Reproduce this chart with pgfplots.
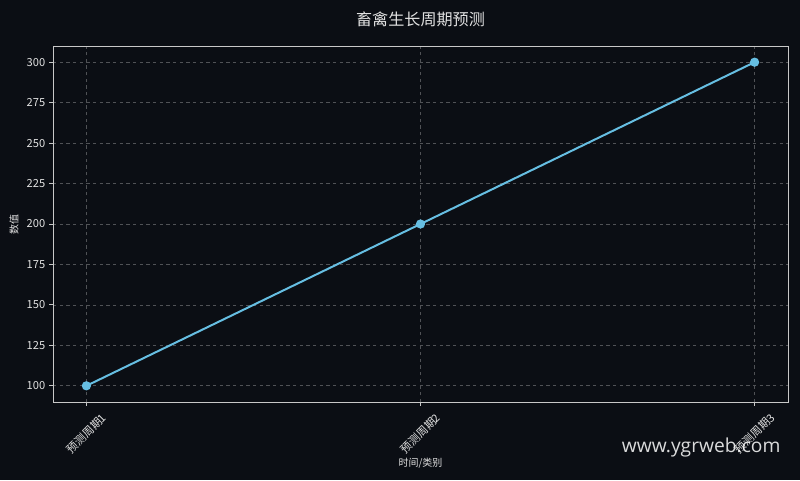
\documentclass[border=0pt]{standalone}
\usepackage{fontspec}
\usepackage{pgfplots}
\pgfplotsset{compat=1.18}
\setmainfont{Noto Sans CJK SC}
\newfontfamily\wmfont{Open Sans}
\definecolor{bgc}{RGB}{11,14,20}
\definecolor{linec}{RGB}{102,190,226}
\definecolor{gridc}{RGB}{80,82,86}
\definecolor{axc}{RGB}{200,200,200}
\definecolor{txt}{RGB}{225,225,225}
\begin{document}
\begin{tikzpicture}
\fill[bgc] (0,0) rectangle (720pt,432pt);
\begin{axis}[
    at={(47.7pt,70.2pt)}, anchor=south west,
    scale only axis,
    width=661.5pt, height=320.4pt,
    xmin=-0.1, xmax=2.1,
    ymin=90, ymax=310,
    xtick={0,1,2},
    xticklabels={预测周期1,预测周期2,预测周期3},
    ytick={100,125,...,300},
    axis line style={axc, line width=0.8pt},
    tick style={axc, line width=0.8pt},
    tick align=outside,
    major tick length=3.5pt,
    xtick pos=bottom, ytick pos=left,
    grid=major,
    major grid style={gridc, dashed, line width=0.7pt},
    tick label style={font=\fontsize{10}{11}\selectfont, text=txt},
    % shifts are in the rotated frame: (-17.7,-17.7) there = 25pt straight down
    xticklabel style={rotate=45, anchor=center, xshift=-17.7pt, yshift=-17.7pt},
    /pgf/number format/assume math mode=true,
    xlabel={时间/类别},
    ylabel={数值},
    label style={font=\fontsize{9}{10}\selectfont, text=txt},
    xlabel style={at={(axis description cs:0.5,0)}, anchor=center, yshift=-55pt},
    ylabel style={at={(axis description cs:0,0.5)}, anchor=center, rotate=0, yshift=35pt},
    title={畜禽生长周期预测},
    title style={font=\fontsize{14.5}{16}\selectfont, text=txt, yshift=8pt},
    ]
    \addplot[linec, line width=1.8pt, mark=*, mark size=3.2pt, mark options={fill=linec, draw=linec}]
    coordinates {(0,100) (1,200) (2,300)};
\end{axis}
\node[font=\wmfont\fontsize{17.3}{19}\selectfont, text=white, opacity=0.85] at (631pt,29pt) {www.ygrweb.com};
\end{tikzpicture}
\end{document}
